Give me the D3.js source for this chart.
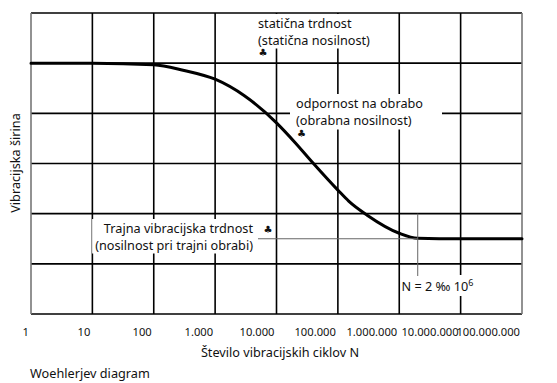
<!DOCTYPE html>
<html>
<head>
<meta charset="utf-8">
<script src="https://cdn.jsdelivr.net/npm/d3@7"></script>
<style>
  html, body { margin: 0; padding: 0; background: #fff; }
  svg { display: block; }
  text { font-family: "Noto Sans", "Open Sans", sans-serif; fill: #111; }
</style>
</head>
<body>
<svg id="chart" width="557" height="383"></svg>
<script>
// Woehler curve: number of load cycles N against vibration amplitude level
const cycles = [1, 10, 100, 300, 1000, 3000, 10000, 20000, 40000, 100000, 150000, 300000, 1000000, 2000000, 10000000, 100000000];
const amplitude = [5.0, 5.0, 4.97, 4.86, 4.68, 4.35, 3.81, 3.42, 3.0, 2.47, 2.25, 1.97, 1.61, 1.51, 1.5, 1.5];

const tickValues = [1, 10, 100, 1000, 10000, 100000, 1000000, 10000000, 100000000];
const tickLabels = ["1", "10", "100", "1.000", "10.000", "100.000", "1.000.000", "10.000.000", "100.000.000"];
const levels = [0, 1, 2, 3, 4, 5, 6];

const enduranceN = 2000000;     // knee of the curve
const enduranceLevel = 1.5;

const FS = "12.7px";

const svg = d3.select("#chart");
const m = { left: 31, top: 13, right: 35, bottom: 69 };
const W = 557 - m.left - m.right;
const H = 383 - m.top - m.bottom;

const x = d3.scaleLog().domain([1, 1e8]).range([m.left, m.left + W]);
const y = d3.scaleLinear().domain([0, 6]).range([m.top + H, m.top]);

const grid = svg.append("g");
// interior grid
grid.selectAll("line.v").data(tickValues.slice(1, -1)).join("line")
  .attr("x1", d => x(d)).attr("x2", d => x(d))
  .attr("y1", y(6)).attr("y2", y(0))
  .attr("stroke", "#000").attr("stroke-width", 1.6);
grid.selectAll("line.h").data(levels.slice(1, -1)).join("line")
  .attr("x1", x(1)).attr("x2", x(1e8))
  .attr("y1", d => y(d)).attr("y2", d => y(d))
  .attr("stroke", "#000").attr("stroke-width", 1.6);
// frame
grid.append("line").attr("x1", x(1)).attr("x2", x(1e8)).attr("y1", y(6)).attr("y2", y(6))
  .attr("stroke", "#000").attr("stroke-width", 1.6);
grid.append("line").attr("x1", x(1)).attr("x2", x(1e8)).attr("y1", y(0)).attr("y2", y(0))
  .attr("stroke", "#000").attr("stroke-width", 1.6);
grid.selectAll("line.side").data([1, 1e8]).join("line")
  .attr("x1", d => x(d)).attr("x2", d => x(d)).attr("y1", y(6)).attr("y2", y(0))
  .attr("stroke", "#777").attr("stroke-width", 1.6);

// the curve
const pts = cycles.map((c, i) => [c, amplitude[i]]);
svg.append("path")
  .datum(pts)
  .attr("fill", "none")
  .attr("stroke", "#000")
  .attr("stroke-width", 3)
  .attr("stroke-linecap", "round")
  .attr("d", d3.line().x(d => x(d[0])).y(d => y(d[1])).curve(d3.curveMonotoneX));

// x axis labels (right aligned on grid lines)
const axis = d3.axisBottom(x).tickValues(tickValues).tickSize(0)
  .tickFormat((d, i) => tickLabels[i]);
const gx = svg.append("g").attr("transform", `translate(0,${y(0)})`).call(axis);
gx.select(".domain").remove();
gx.selectAll("text")
  .attr("text-anchor", "end")
  .attr("dx", "-2.5")
  .attr("y", 22)
  .attr("dy", 0)
  .style("font-family", "'Noto Sans', sans-serif")
  .style("font-size", "11.2px")
  .attr("fill", "#111");

// axis titles
svg.append("text").attr("x", 280).attr("y", 357).attr("text-anchor", "middle")
  .style("font-size", FS).text("Število vibracijskih ciklov N");
svg.append("text").attr("transform", "translate(19.5,163) rotate(-90)").attr("text-anchor", "middle")
  .style("font-size", FS).text("Vibracijska širina");
svg.append("text").attr("x", 30).attr("y", 378)
  .style("font-size", FS).text("Woehlerjev diagram");

// annotation labels on white boxes
function label(lines, px, py, anchor, pad) {
  const g = svg.append("g");
  const bg = g.append("rect").attr("fill", "#fff");
  const t = g.append("text").attr("text-anchor", anchor).style("font-size", FS);
  lines.forEach((s, i) => {
    t.append("tspan").attr("x", px).attr("y", py + i * 16.5).text(s);
  });
  const b = t.node().getBBox();
  bg.attr("x", b.x - pad[0]).attr("y", b.y - pad[1])
    .attr("width", b.width + pad[0] + pad[2]).attr("height", b.height + pad[1] + pad[3]);
  return g;
}
label(["statična trdnost", "(statična nosilnost)"], 258, 28, "start", [3, 0, 3, 0]);
label(["odpornost na obrabo", "(obrabna nosilnost)"], 296, 108, "start", [6, 0, 19, 1]);
label(["Trajna vibracijska trdnost", "(nosilnost pri trajni obrabi)"], 253, 233, "end", [3, 0, 5, 0]);

// N label
const nl = svg.append("g");
const nbg = nl.append("rect").attr("fill", "#fff");
const nt = nl.append("text").attr("x", 401.5).attr("y", 291).style("font-size", FS);
nt.append("tspan").text("N = 2 ‰ 10");
nt.append("tspan").attr("dy", -5).style("font-size", "9px").text("6");
const nb = nt.node().getBBox();
nbg.attr("x", nb.x).attr("y", nb.y - 1).attr("width", nb.width + 4).attr("height", nb.height + 2);

// leader lines to the endurance limit
svg.append("line")
  .attr("x1", 258).attr("x2", x(enduranceN))
  .attr("y1", y(enduranceLevel)).attr("y2", y(enduranceLevel))
  .attr("stroke", "#666").attr("stroke-width", 1);
svg.append("line")
  .attr("x1", x(enduranceN)).attr("x2", x(enduranceN))
  .attr("y1", y(2)).attr("y2", 276)
  .attr("stroke", "#666").attr("stroke-width", 1);

// reference markers
const marks = [[263, 56], [301.5, 137], [268, 233]];
svg.selectAll("text.mark").data(marks).join("text")
  .attr("class", "mark")
  .attr("x", d => d[0]).attr("y", d => d[1])
  .attr("text-anchor", "middle")
  .style("font-family", "'DejaVu Sans', sans-serif")
  .style("font-size", "10px")
  .text("♣");
</script>
</body>
</html>
